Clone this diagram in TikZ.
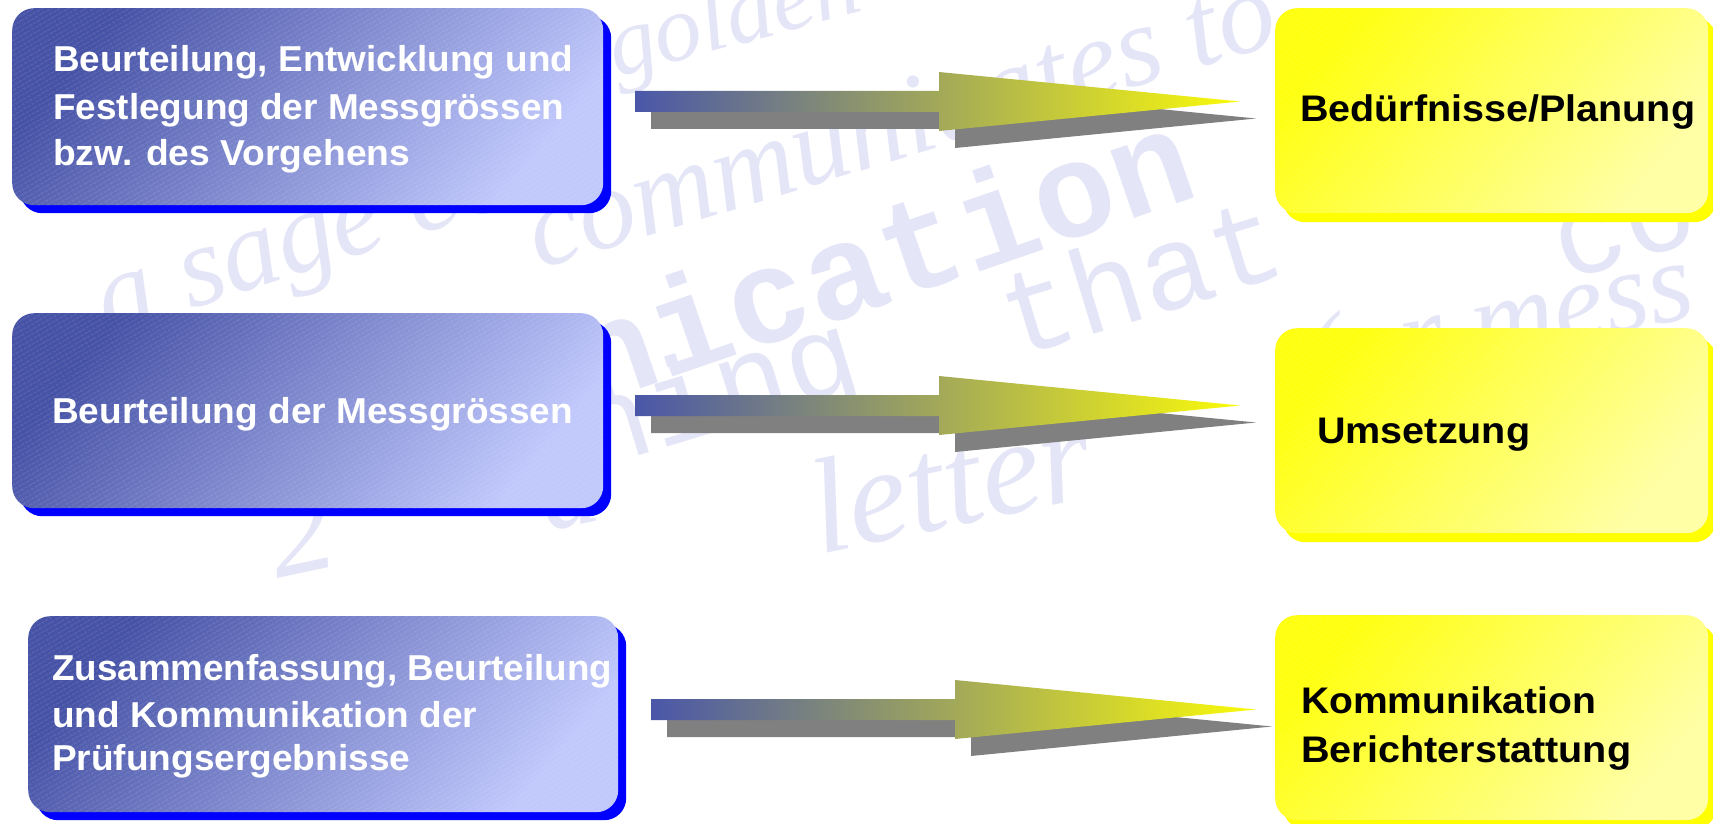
\documentclass[tikz,border=0pt]{standalone}
\usepackage{fontspec}
\setmainfont{Liberation Sans}
\newfontfamily\wmmono{Liberation Mono}
\newfontfamily\wmserif{Liberation Serif}
\usetikzlibrary{patterns.meta,shadows}
\newcommand\fitw[2]{\resizebox{#1}{\height}{#2}}
\definecolor{bdark}{RGB}{70,82,166}
\definecolor{blight}{RGB}{192,200,252}
\definecolor{ydark}{RGB}{255,255,16}
\definecolor{ylight}{RGB}{255,255,165}
\definecolor{shblue}{RGB}{0,0,255}
\definecolor{shyel}{RGB}{255,255,0}
\definecolor{arrblue}{RGB}{74,87,168}
\definecolor{arryel}{RGB}{250,250,10}
\definecolor{arrshadow}{RGB}{128,128,128}
\definecolor{wmcol}{RGB}{229,229,248}
\newcommand\fatarrow[3]{%
  \coordinate (#1s) at (#2,#3);
  \coordinate (#1e) at (#2+605,#3);
  \coordinate (#1ss) at (#2+16,#3+17);
  \coordinate (#1se) at (#2+621,#3+17);
  \fill[arrshadow] (#1ss) ++(0,-10.5) -- ++(304,0) -- ++(0,-19) -- (#1se) -- ++(-301,29.5) -- ++(0,-19) -- ++(-304,0) -- cycle;
  \shade[left color=arrblue, right color=arryel] (#1s) ++(0,-10.5) -- ++(304,0) -- ++(0,-19) -- (#1e) -- ++(-301,29.5) -- ++(0,-19) -- ++(-304,0) -- cycle;
}
\tikzset{
  bluebox/.style={rectangle, rounded corners=22pt, anchor=north west, inner sep=0pt,
    left color=bdark, right color=blight, shading angle=50,
    general shadow={fill=shblue, shadow xshift=8pt, shadow yshift=-8pt}},
  yelbox/.style={rectangle, rounded corners=22pt, anchor=north west, inner sep=0pt,
    left color=ydark, right color=ylight, shading angle=50,
    general shadow={fill=shyel, shadow xshift=8pt, shadow yshift=-9pt}},
  stripes/.style={pattern={Lines[angle=30,distance=4pt,line width=0.8pt]}, pattern color=white, fill opacity=0.22, rounded corners=22pt},
  wtext/.style={anchor=base west, inner sep=0pt, text=white, font=\bfseries\fontsize{36}{40}\selectfont},
  ktext/.style={anchor=base west, inner sep=0pt, text=black, font=\bfseries\fontsize{37}{40}\selectfont},
  wm/.style={text=wmcol, inner sep=0pt},
  wmit/.style={wm, font=\wmserif\itshape\fontsize{115}{115}\selectfont},
  wmtt/.style={wm, font=\wmmono\fontsize{120}{120}\selectfont}
}
\begin{document}
\begin{tikzpicture}[x=1pt,y=-1pt]
\useasboundingbox (0,0) rectangle (1713,824);
\fill[white] (0,0) rectangle (1713,824);
% faint watermark
\node[wmit, font=\wmserif\itshape\fontsize{95}{95}\selectfont, rotate=15] (w0) at (735,22) {golden};
\node[wmit, rotate=17] (w1) at (900,120) {communicates to};
\node[wmit, rotate=18] (w2) at (310,255) {a sage co};
\node[wm, font=\wmmono\bfseries\fontsize{135}{135}\selectfont, rotate=19] (w3) at (880,255) {nication};
\node[wmtt, rotate=17] (w4) at (650,420) {ething};
\node[wmtt, rotate=17] (w5) at (1140,275) {that};
\node[wmtt, rotate=17] (w6) at (1625,230) {co};
\node[wmit, font=\wmserif\itshape\fontsize{130}{130}\selectfont, rotate=12] (w7) at (300,530) {2};
\node[wmit, rotate=12] (w8) at (570,500) {a};
\node[wmit, font=\wmserif\itshape\fontsize{135}{135}\selectfont, rotate=12] (w9) at (950,480) {letter};
\node[wmit, rotate=12] (w10) at (1500,330) {(or mess};
% left boxes
\node[bluebox, minimum width=591pt, minimum height=197pt] (b1) at (12,8) {};
\fill[stripes] (b1.north west) rectangle (b1.south east);
\node[bluebox, minimum width=591pt, minimum height=195pt] (b2) at (12,313) {};
\fill[stripes] (b2.north west) rectangle (b2.south east);
\node[bluebox, minimum width=590pt, minimum height=196pt] (b3) at (28,616) {};
\fill[stripes] (b3.north west) rectangle (b3.south east);
% right boxes
\node[yelbox, minimum width=433pt, minimum height=205pt] (y1) at (1275,8) {};
\fill[stripes, fill opacity=0.15] (y1.north west) rectangle (y1.south east);
\node[yelbox, minimum width=433pt, minimum height=205pt] (y2) at (1275,328) {};
\fill[stripes, fill opacity=0.15] (y2.north west) rectangle (y2.south east);
\node[yelbox, minimum width=433pt, minimum height=205pt] (y3) at (1275,615) {};
\fill[stripes, fill opacity=0.15] (y3.north west) rectangle (y3.south east);
% arrows
\fatarrow{a1}{635}{101.5}
\fatarrow{a2}{635}{405.5}
\fatarrow{a3}{651}{709.5}
% texts
\node[wtext] (t1a) at (53,72) {\fitw{520pt}{Beurteilung, Entwicklung und}};
\node[wtext] (t1b) at (53,120) {\fitw{511pt}{Festlegung der Messgrössen}};
\node[wtext] (t1c) at (53,165) {\fitw{357pt}{bzw. des Vorgehens}};
\node[wtext] (t2a) at (52,423) {\fitw{521pt}{Beurteilung der Messgrössen}};
\node[wtext] (t3a) at (52,680) {\fitw{560pt}{Zusammenfassung, Beurteilung}};
\node[wtext] (t3b) at (52,727) {\fitw{425pt}{und Kommunikation der}};
\node[wtext] (t3c) at (52,770) {\fitw{358pt}{Prüfungsergebnisse}};
\node[ktext] (u1) at (1300,122) {\fitw{395pt}{Bedürfnisse/Planung}};
\node[ktext] (u2) at (1317,443) {\fitw{213pt}{Umsetzung}};
\node[ktext] (u3a) at (1301,713) {\fitw{295pt}{Kommunikation}};
\node[ktext] (u3b) at (1301,762) {\fitw{330pt}{Berichterstattung}};
\end{tikzpicture}
\end{document}
